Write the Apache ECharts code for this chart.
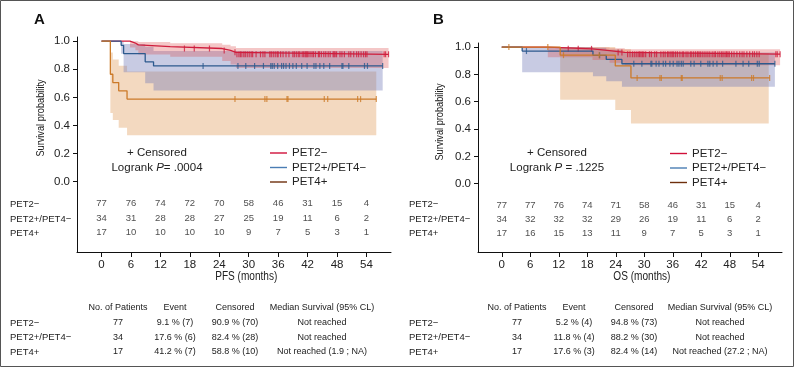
<!DOCTYPE html>
<html>
<head>
<meta charset="utf-8">
<script src="https://cdn.jsdelivr.net/npm/echarts@6/dist/echarts.min.js"></script>
<style>
  html, body { margin: 0; padding: 0; background: #fff; }
  #chart { width: 794px; height: 367px; }
</style>
</head>
<body>
<div id="chart"></div>
<script>
const MINUS = '\u2212';
const groups = ['PET2' + MINUS, 'PET2+/PET4' + MINUS, 'PET4+'];
const monthTicks = [0, 6, 12, 18, 24, 30, 36, 42, 48, 54];
const survTicks = [0, 0.2, 0.4, 0.6, 0.8, 1.0];

// Kaplan-Meier steps, [month, survival]
const pfsPet2Neg = [[0, 1], [5.8, 0.987], [6.9, 0.974], [7.5, 0.961], [14.0, 0.948], [24.6, 0.934], [26.3, 0.921], [27.4, 0.907], [58.5, 0.907]];
const pfsPet2PosPet4Neg = [[0, 1], [4.0, 0.971], [4.5, 0.912], [8.9, 0.853], [10.6, 0.824], [57.3, 0.824]];
const pfsPet4Pos = [[0, 1], [1.8, 0.765], [2.3, 0.706], [3.5, 0.647], [5.2, 0.588], [56.0, 0.588]];
const osPet2Neg = [[0, 1], [9.7, 0.987], [19.1, 0.974], [22.7, 0.961], [25.9, 0.948], [58.6, 0.948]];
const osPet2PosPet4Neg = [[0, 1], [4.3, 0.971], [19.2, 0.940], [22.0, 0.910], [25.3, 0.878], [57.5, 0.878]];
const osPet4Pos = [[0, 1], [12.3, 0.941], [23.9, 0.862], [27.2, 0.774], [56.4, 0.774]];

// confidence bands, [month, lower, upper], last entry = end month
const pfsBandPet2Neg = [[5.8, 0.955, 1.0], [6.9, 0.935, 1.0], [7.5, 0.905, 0.995], [14.0, 0.89, 0.985], [24.6, 0.86, 0.975], [26.3, 0.835, 0.965], [27.4, 0.81, 0.952], [58.5]];
const pfsBandPet2PosPet4Neg = [[4.0, 0.91, 1.0], [4.5, 0.78, 0.98], [8.9, 0.70, 0.96], [10.6, 0.65, 0.93], [57.3]];
const pfsBandPet4Pos = [[1.8, 0.49, 0.92], [2.3, 0.44, 0.87], [3.5, 0.385, 0.825], [5.2, 0.33, 0.785], [56.0]];
const osBandPet2Neg = [[9.7, 0.925, 1.0], [19.1, 0.905, 0.997], [22.7, 0.885, 0.992], [25.9, 0.868, 0.985], [58.6]];
const osBandPet2PosPet4Neg = [[4.3, 0.815, 1.0], [19.2, 0.787, 0.995], [22.0, 0.75, 0.98], [25.3, 0.71, 0.96], [57.5]];
const osBandPet4Pos = [[12.3, 0.615, 1.0], [23.9, 0.54, 0.985], [27.2, 0.44, 0.955], [56.2]];

// censoring times (months)
const pfsCensPet2Neg = [16.9, 18.9, 22.0, 25.0, 27.2, 27.6, 28.0, 28.3, 28.6, 29.0, 29.3, 29.7,
  30.1, 30.5, 30.8, 31.5, 32.4, 32.9, 33.3, 34.3, 34.6, 35.0, 35.4, 35.8,
  36.0, 36.5, 37.0, 37.6, 38.2, 39.0, 39.3, 39.7, 40.1, 40.4, 40.9, 41.2, 41.5, 41.7, 41.9,
  42.1, 42.5, 42.9, 43.2, 43.6, 44.2, 44.4, 44.8, 45.3, 45.7, 46.2, 46.6, 47.2, 47.4, 47.6, 47.9,
  48.6, 49.0, 49.5, 50.4, 50.8, 51.4, 52.0, 52.4, 52.9, 53.4, 53.8, 54.1, 57.6, 57.9, 58.5];
const pfsCensPet2PosPet4Neg = [20.7, 27.8, 29.4, 31.2, 33.0, 34.5, 34.8, 35.2, 35.9,
  36.7, 37.1, 37.6, 38.3, 39.0, 39.7, 40.8, 41.9, 43.3, 43.7, 44.5, 45.3, 46.5,
  49.0, 49.2, 50.4, 53.6, 54.2, 57.3];
const pfsCensPet4Pos = [27.2, 33.3, 33.7, 37.8, 38.0, 45.4, 46.1, 52.2, 52.8, 56.0];
const osCensPet2Neg = [14.0, 16.1, 18.9, 24.5, 25.3, 26.5, 27.0, 27.5, 27.9, 28.3, 28.7, 29.0, 29.3, 29.6, 29.9,
  30.3, 31.1, 31.5, 32.2, 32.6, 33.5, 34.0, 34.4, 34.9, 35.2, 35.6, 35.9,
  36.2, 36.6, 37.0, 37.5, 38.0, 38.3, 38.8, 39.2, 39.7, 40.0, 40.4, 40.8, 41.2, 41.5, 41.8,
  42.2, 42.6, 43.0, 43.4, 43.8, 44.3, 44.7, 45.0, 45.5, 45.9, 46.3, 46.6, 47.0, 47.3, 47.6, 47.9,
  48.4, 48.9, 49.5, 50.1, 50.6, 51.0, 51.6, 52.2, 52.8, 53.2, 53.7, 54.2, 57.7, 58.0, 58.6];
const osCensPet2PosPet4Neg = [5.2, 20.6, 27.8, 29.5, 31.4, 31.6, 32.5, 33.1, 34.0, 34.5, 35.4,
  36.1, 36.9, 37.3, 37.8, 38.2, 39.8, 40.5, 41.9, 43.4, 43.8, 44.5, 45.3, 46.5,
  49.3, 50.8, 52.0, 53.8, 54.2, 57.5];
const osCensPet4Pos = [1.5, 9.7, 13.0, 20.5, 28.5, 33.3, 33.6, 37.8, 38.0, 46.0, 46.4, 52.6, 53.0, 56.4];

// number at risk
const pfsRiskPet2Neg = [77, 76, 74, 72, 70, 58, 46, 31, 15, 4];
const pfsRiskPet2PosPet4Neg = [34, 31, 28, 28, 27, 25, 19, 11, 6, 2];
const pfsRiskPet4Pos = [17, 10, 10, 10, 10, 9, 7, 5, 3, 1];
const osRiskPet2Neg = [77, 77, 76, 74, 71, 58, 46, 31, 15, 4];
const osRiskPet2PosPet4Neg = [34, 32, 32, 32, 29, 26, 19, 11, 6, 2];
const osRiskPet4Pos = [17, 16, 15, 13, 11, 9, 7, 5, 3, 1];

// summary tables
const tableHead = ['No. of Patients', 'Event', 'Censored', 'Median Survival (95% CL)'];
const pfsPatients = ['77', '34', '17'];
const pfsEvent = ['9.1 % (7)', '17.6 % (6)', '41.2 % (7)'];
const pfsCensored = ['90.9 % (70)', '82.4 % (28)', '58.8 % (10)'];
const pfsMedian = ['Not reached', 'Not reached', 'Not reached (1.9 ; NA)'];
const osPatients = ['77', '34', '17'];
const osEvent = ['5.2 % (4)', '11.8 % (4)', '17.6 % (3)'];
const osCensored = ['94.8 % (73)', '88.2 % (30)', '82.4 % (14)'];
const osMedian = ['Not reached', 'Not reached', 'Not reached (27.2 ; NA)'];

const FONT = "'Liberation Sans', Arial, sans-serif";
const TXT = '#222';
const lineColors = ['#cf1d3c', '#2c5a8e', '#cc7a28'];
const bandColors = ['rgba(220,70,70,0.30)', 'rgba(110,118,182,0.38)', 'rgba(226,165,105,0.42)'];
const legendColors = ['#d0103a', '#4a7db4', '#6e2f0c'];
const riskRowY = [-0.157, -0.262, -0.362];

const panels = [
  {
    letter: 'A', ox: 0, xName: 'PFS (months)', p: '= .0004',
    grid: { left: 77, top: 37, width: 314, height: 215 },
    steps: [pfsPet2Neg, pfsPet2PosPet4Neg, pfsPet4Pos],
    bands: [pfsBandPet2Neg, pfsBandPet2PosPet4Neg, pfsBandPet4Pos],
    cens: [pfsCensPet2Neg, pfsCensPet2PosPet4Neg, pfsCensPet4Pos],
    risk: [pfsRiskPet2Neg, pfsRiskPet2PosPet4Neg, pfsRiskPet4Pos],
    table: [pfsPatients, pfsEvent, pfsCensored, pfsMedian],
    cols: [118, 175, 235, 322], yNameY: 118, textX: 157, legendX: 270, legendY: [153, 167.5, 182]
  },
  {
    letter: 'B', ox: 399, xName: 'OS (months)', p: ' = .1225',
    grid: { left: 478, top: 43, width: 304, height: 209 },
    steps: [osPet2Neg, osPet2PosPet4Neg, osPet4Pos],
    bands: [osBandPet2Neg, osBandPet2PosPet4Neg, osBandPet4Pos],
    cens: [osCensPet2Neg, osCensPet2PosPet4Neg, osCensPet4Pos],
    risk: [osRiskPet2Neg, osRiskPet2PosPet4Neg, osRiskPet4Pos],
    table: [osPatients, osEvent, osCensored, osMedian],
    cols: [517, 574, 634, 720], yNameY: 122, textX: 557, legendX: 670, legendY: [153.5, 168, 182.5]
  }
];

function survAt(steps, t) {
  let s = steps[0][1];
  for (const [m, v] of steps) { if (m <= t) s = v; }
  return s;
}

function bandSeries(gi, band, color) {
  return {
    type: 'custom', xAxisIndex: gi, yAxisIndex: gi, silent: true, z: 1,
    data: [[0, 0]],
    renderItem: (params, api) => {
      const upper = [], lower = [];
      for (let i = 0; i < band.length - 1; i++) {
        const [t, lo, hi] = band[i];
        const tn = band[i + 1][0];
        upper.push(api.coord([t, hi]), api.coord([tn, hi]));
        lower.push(api.coord([t, lo]), api.coord([tn, lo]));
      }
      return { type: 'polygon', shape: { points: upper.concat(lower.reverse()) }, style: { fill: color } };
    }
  };
}

const grids = [], xAxes = [], yAxes = [], series = [], graphics = [];

graphics.push({ type: 'rect', shape: { x: 0.5, y: 0.5, width: 793, height: 366 }, style: { fill: 'none', stroke: '#555', lineWidth: 1 } });

panels.forEach((pn, gi) => {
  grids.push(pn.grid);
  xAxes.push({
    type: 'value', gridIndex: gi, min: -5, max: 59,
    axisLine: { show: true, onZero: false, lineStyle: { color: '#111', width: 1 } },
    axisTick: { show: true, customValues: monthTicks, length: 5, lineStyle: { color: '#111' } },
    axisLabel: { customValues: monthTicks, fontSize: 11.5, color: TXT, margin: 7, fontFamily: FONT },
    splitLine: { show: false }
  });
  yAxes.push({
    type: 'value', gridIndex: gi, min: -0.5, max: 1.03,
    axisLine: { show: true, onZero: false, lineStyle: { color: '#111', width: 1 } },
    axisTick: { show: true, customValues: survTicks, length: 4, lineStyle: { color: '#111' } },
    axisLabel: { customValues: survTicks, fontSize: 11.5, color: TXT, margin: 7, fontFamily: FONT, formatter: v => v.toFixed(1) },
    splitLine: { show: false }
  });

  [2, 1, 0].forEach(k => series.push(bandSeries(gi, pn.bands[k], bandColors[k])));

  [0, 1, 2].forEach(k => {
    series.push({
      name: groups[k], type: 'line', xAxisIndex: gi, yAxisIndex: gi, step: 'end',
      showSymbol: false, silent: true, z: 3 + k,
      lineStyle: { color: lineColors[k], width: 1.3 }, itemStyle: { color: lineColors[k] },
      data: pn.steps[k]
    });
    series.push({
      type: 'scatter', xAxisIndex: gi, yAxisIndex: gi, silent: true, z: 3 + k,
      symbol: 'rect', symbolSize: [1.2, 6], itemStyle: { color: lineColors[k] },
      data: pn.cens[k].map(t => [t, survAt(pn.steps[k], t)])
    });
    series.push({
      type: 'scatter', xAxisIndex: gi, yAxisIndex: gi, silent: true, symbolSize: 0,
      label: { show: true, position: 'inside', formatter: p => p.data[2], fontSize: 9.5, color: TXT, fontFamily: FONT },
      data: monthTicks.map((t, i) => [t, riskRowY[k], pn.risk[k][i]])
    });
  });

  const ox = pn.ox;
  // legend
  groups.forEach((g, k) => {
    const ly = pn.legendY[k];
    graphics.push({ type: 'line', shape: { x1: pn.legendX, y1: ly, x2: pn.legendX + 17, y2: ly }, style: { stroke: legendColors[k], lineWidth: 1.4 } });
    graphics.push({ type: 'text', x: pn.legendX + 22, y: ly,
      style: { text: g, font: '11.5px ' + FONT, fill: TXT, textVerticalAlign: 'middle' } });
  });

  graphics.push({ type: 'text', x: 34 + ox, y: 20, style: { text: pn.letter, font: 'bold 15px ' + FONT, fill: '#111', textVerticalAlign: 'middle' } });
  graphics.push({ type: 'text', x: 41 + ox, y: pn.yNameY, rotation: Math.PI / 2, scaleX: 0.8,
    style: { text: 'Survival probability', font: '11.5px ' + FONT, fill: TXT, textAlign: 'center', textVerticalAlign: 'middle' } });
  graphics.push({ type: 'text', x: pn.grid.left + (5 + 29.5) * pn.grid.width / 64, y: 277, scaleX: 0.84,
    style: { text: pn.xName, font: '12px ' + FONT, fill: TXT, textAlign: 'center', textVerticalAlign: 'middle' } });
  graphics.push({ type: 'text', x: pn.textX, y: 153,
    style: { text: '+ Censored', font: '11.5px ' + FONT, fill: TXT, textAlign: 'center', textVerticalAlign: 'middle' } });
  graphics.push({ type: 'text', x: pn.textX, y: 167.5,
    style: { text: '{a|Logrank }{i|P}{a|' + pn.p + '}', fill: TXT, textAlign: 'center', textVerticalAlign: 'middle',
      rich: { a: { fontSize: 11.5, fontFamily: FONT, fill: TXT }, i: { fontSize: 11.5, fontFamily: FONT, fontStyle: 'italic', fill: TXT } } } });

  const riskY = [204.5, 219, 233];
  groups.forEach((g, k) => {
    graphics.push({ type: 'text', x: 10 + ox, y: riskY[k],
      style: { text: g, font: '9.5px ' + FONT, fill: TXT, textVerticalAlign: 'middle' } });
  });

  tableHead.forEach((h, c) => {
    graphics.push({ type: 'text', x: pn.cols[c], y: 308,
      style: { text: h, font: '9px ' + FONT, fill: TXT, textAlign: 'center', textVerticalAlign: 'middle' } });
  });
  const rowY = [323, 337.5, 352];
  groups.forEach((g, k) => {
    graphics.push({ type: 'text', x: 10 + ox, y: rowY[k],
      style: { text: g, font: '9.5px ' + FONT, fill: TXT, textVerticalAlign: 'middle' } });
    pn.table.forEach((col, c) => {
      graphics.push({ type: 'text', x: pn.cols[c], y: rowY[k],
        style: { text: col[k], font: '9px ' + FONT, fill: TXT, textAlign: 'center', textVerticalAlign: 'middle' } });
    });
  });
});

const chart = echarts.init(document.getElementById('chart'), null, { renderer: 'canvas' });
chart.setOption({
  animation: false,
  backgroundColor: '#fff',
  textStyle: { fontFamily: FONT },
  grid: grids,
  xAxis: xAxes,
  yAxis: yAxes,
  series: series,
  graphic: graphics
});
</script>
</body>
</html>
